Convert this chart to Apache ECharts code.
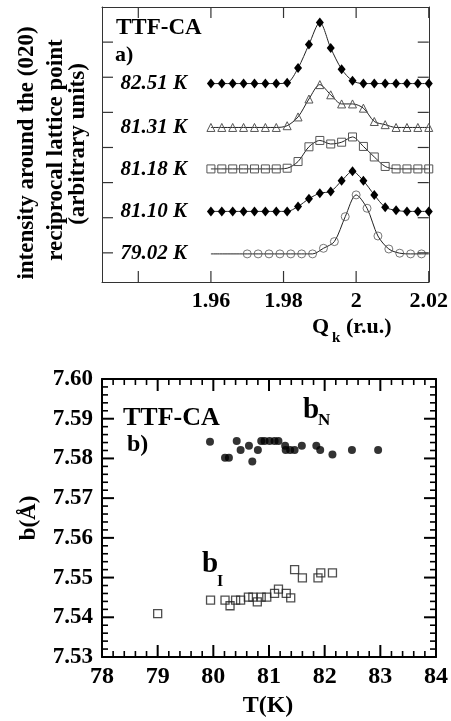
<!DOCTYPE html>
<html>
<head>
<meta charset="utf-8">
<script src="https://cdn.jsdelivr.net/npm/echarts@6/dist/echarts.min.js"></script>
<style>
html, body { margin: 0; padding: 0; background: #fff; }
#chart { width: 451px; height: 721px; }
</style>
</head>
<body>
<div id="chart"></div>
<script>
// panel a) : intensity scans vs Q_k (curves are offset vertically)
var qScan = [1.960, 1.963, 1.966, 1.969, 1.972, 1.975, 1.978, 1.981, 1.984, 1.987, 1.990,
             1.993, 1.996, 1.999, 2.002, 2.005, 2.008, 2.011, 2.014, 2.017, 2.020];
var int8251 = [5.82, 5.82, 5.82, 5.82, 5.82, 5.82, 5.82, 5.84, 6.26, 6.93, 7.56,
               6.83, 6.23, 5.90, 5.82, 5.82, 5.82, 5.82, 5.82, 5.82, 5.82];
var int8131 = [4.57, 4.57, 4.57, 4.57, 4.57, 4.57, 4.57, 4.62, 4.87, 5.38, 5.79,
               5.50, 5.24, 5.24, 5.12, 4.74, 4.65, 4.57, 4.57, 4.57, 4.57];
var int8118 = [3.39, 3.39, 3.39, 3.39, 3.39, 3.39, 3.39, 3.41, 3.60, 4.02, 4.20,
               4.10, 4.15, 4.30, 4.03, 3.73, 3.46, 3.39, 3.39, 3.39, 3.39];
var int8110 = [2.18, 2.18, 2.18, 2.18, 2.18, 2.18, 2.18, 2.18, 2.32, 2.54, 2.70,
               2.75, 3.05, 3.32, 3.05, 2.65, 2.30, 2.21, 2.18, 2.18, 2.18];
var qCirc = [1.970, 1.973, 1.976, 1.979, 1.982, 1.985, 1.988, 1.991, 1.994, 1.997, 2.000,
             2.003, 2.006, 2.009, 2.012, 2.015, 2.018];
var int7902 = [0.97, 0.97, 0.97, 0.97, 0.97, 0.97, 0.97, 1.13, 1.32, 2.03, 2.65,
               2.27, 1.48, 1.11, 0.99, 0.97, 0.97];
var fitEnds = [[1.96, 0.97], [2.02, 0.97]];   // fit line for 79.02 K runs over the whole scan
var curveLabels = ['82.51 K', '81.31 K', '81.18 K', '81.10 K', '79.02 K'];
var qRange = [1.93, 2.02];
var intRange = [0.17, 8];
var qTicks = [1.94, 1.96, 1.98, 2, 2.02];
var qLabels = [1.96, 1.98, 2, 2.02];
var intTicks = [1, 2, 3, 4, 5, 6, 7];

// panel b) : lattice parameter b vs T
var tN = [79.94, 80.21, 80.28, 80.42, 80.49, 80.64, 80.70, 80.80, 80.86, 80.92, 81.01, 81.10,
          81.17, 81.29, 81.30, 81.38, 81.46, 81.59, 81.85, 81.92, 82.14, 82.49, 82.96];
var bN = [7.5842, 7.5802, 7.5802, 7.5844, 7.5821, 7.5832, 7.5792, 7.5821, 7.5844, 7.5844, 7.5844, 7.5844,
          7.5844, 7.5832, 7.5821, 7.5821, 7.5821, 7.5832, 7.5832, 7.5821, 7.5810, 7.5821, 7.5821];
var tI = [79.00, 79.95, 80.21, 80.30, 80.40, 80.49, 80.63, 80.71, 80.79, 80.86,
          80.96, 81.10, 81.17, 81.31, 81.39, 81.46, 81.60, 81.88, 81.93, 82.14];
var bI = [7.5409, 7.5443, 7.5443, 7.5429, 7.5443, 7.5443, 7.5451, 7.5451, 7.5439, 7.5451,
          7.5451, 7.5460, 7.5471, 7.5460, 7.5449, 7.5520, 7.5499, 7.5499, 7.5512, 7.5512];
var tRange = [78, 84];
var bRange = [7.53, 7.60];
var tTicks = [78, 79, 80, 81, 82, 83, 84];
var bTicks = [7.53, 7.54, 7.55, 7.56, 7.57, 7.58, 7.59, 7.60];

var FONT = '"Liberation Serif", "Times New Roman", serif';

function pairs(xs, ys) {
    var out = [];
    for (var i = 0; i < xs.length; i++) {
        out.push([xs[i], ys[i]]);
    }
    return out;
}

// 4 minor ticks between two major ticks
function minorOf(major) {
    var out = [];
    for (var i = 0; i < major.length - 1; i++) {
        var step = (major[i + 1] - major[i]) / 5;
        for (var j = 1; j < 5; j++) {
            out.push(+(major[i] + step * j).toFixed(4));
        }
    }
    return out;
}

var fit7902 = [fitEnds[0]].concat(pairs(qCirc, int7902), [fitEnds[1]]);

var chart = echarts.init(document.getElementById('chart'));

var thinLine = { show: true, lineStyle: { color: '#333', width: 1 } };
var thickLine = { show: true, lineStyle: { color: '#000', width: 2 } };

function ax(grid, pos, range, line, label) {
    return { type: 'value', gridIndex: grid, position: pos, min: range[0], max: range[1],
             axisLine: line, axisTick: { show: false }, splitLine: { show: false },
             axisLabel: label || { show: false } };
}

function hollow(color) {
    return { color: 'transparent', borderColor: color, borderWidth: 1 };
}

function scanSeries(name, ys, symbol, size, style) {
    return {
        name: name, type: 'line', xAxisIndex: 0, yAxisIndex: 0,
        data: pairs(qScan, ys), smooth: 0.3, showAllSymbol: true,
        symbol: symbol, symbolSize: size, itemStyle: style,
        lineStyle: { color: '#222', width: 1 }, z: 3
    };
}

function txt(x, y, text, size, opts) {
    opts = opts || {};
    return {
        type: 'text', x: x, y: y, rotation: opts.rot || 0,
        style: {
            text: text, fill: '#000',
            font: (opts.italic ? 'italic ' : '') + 'bold ' + size + 'px ' + FONT,
            textAlign: opts.align || 'left', align: opts.align || 'left',
            textVerticalAlign: 'middle', verticalAlign: 'middle'
        }
    };
}

var labelY = [84, 127.5, 169.5, 211.7, 254];
var graphics = [
    txt(27, 153, 'intensity around the (020)', 23, { rot: Math.PI / 2, align: 'center' }),
    txt(56, 150, 'reciprocal lattice point', 23, { rot: Math.PI / 2, align: 'center' }),
    txt(78, 144, '(arbitrary units)', 23, { rot: Math.PI / 2, align: 'center' }),
    txt(116, 28, 'TTF-CA', 23),
    txt(115, 55, 'a)', 22),
    txt(312, 327, 'Q', 22),
    txt(332, 338, 'k', 15),
    txt(346, 327, '(r.u.)', 22),
    txt(123, 418, 'TTF-CA', 26),
    txt(127, 445, 'b)', 24),
    txt(303, 411, 'b', 29),
    txt(318, 421, 'N', 17),
    txt(202, 565, 'b', 29),
    txt(217, 582, 'I', 16),
    txt(29, 518, 'b(Å)', 23, { rot: Math.PI / 2, align: 'center' }),
    txt(268, 706, 'T(K)', 24, { align: 'center' })
];
for (var c = 0; c < curveLabels.length; c++) {
    graphics.push(txt(187, labelY[c], curveLabels[c], 21, { italic: true, align: 'right' }));
}

var boldLbl = { fontFamily: FONT, fontWeight: 'bold', color: '#000' };

var option = {
    animation: false,
    backgroundColor: '#fff',
    grid: [
        { left: 102, top: 7, width: 328, height: 275, show: false },
        { left: 102, top: 379, width: 336, height: 278, show: false }
    ],
    xAxis: [
        ax(0, 'bottom', qRange, thinLine,
            Object.assign({ customValues: qLabels, margin: 8, fontSize: 22,
                formatter: function (v) { return String(+v.toFixed(2)); } }, boldLbl)),
        ax(0, 'top', qRange, thinLine),
        ax(1, 'bottom', tRange, thickLine,
            Object.assign({ customValues: tTicks, margin: 8, fontSize: 24,
                formatter: function (v) { return String(Math.round(v)); } }, boldLbl)),
        ax(1, 'top', tRange, thickLine)
    ],
    yAxis: [
        ax(0, 'left', intRange, thinLine),
        ax(0, 'right', intRange, thinLine),
        ax(1, 'left', bRange, thickLine,
            Object.assign({ customValues: bTicks, margin: 9, fontSize: 23,
                formatter: function (v) { return v.toFixed(2); } }, boldLbl)),
        ax(1, 'right', bRange, thickLine)
    ],
    series: [
        scanSeries('82.51 K', int8251, 'diamond', [8, 10], { color: '#000' }),
        scanSeries('81.31 K', int8131, 'triangle', 8, hollow('#555')),
        scanSeries('81.18 K', int8118, 'rect', 8, hollow('#555')),
        scanSeries('81.10 K', int8110, 'diamond', [8, 10], { color: '#000' }),
        {
            name: '79.02 K fit', type: 'line', xAxisIndex: 0, yAxisIndex: 0,
            data: fit7902, smooth: 0.3, symbol: 'none',
            lineStyle: { color: '#222', width: 1 }, z: 2
        },
        {
            name: '79.02 K', type: 'scatter', xAxisIndex: 0, yAxisIndex: 0,
            data: pairs(qCirc, int7902), symbol: 'circle', symbolSize: 8,
            itemStyle: hollow('#555'), z: 3
        },
        {
            name: 'bN', type: 'scatter', xAxisIndex: 2, yAxisIndex: 2,
            data: pairs(tN, bN), symbol: 'circle', symbolSize: 8,
            itemStyle: { color: '#000' }
        },
        {
            name: 'bI', type: 'scatter', xAxisIndex: 2, yAxisIndex: 2,
            data: pairs(tI, bI), symbol: 'rect', symbolSize: 8,
            itemStyle: { color: 'transparent', borderColor: '#222', borderWidth: 1.3 }
        }
    ],
    graphic: graphics
};

chart.setOption(option);

// inward ticks on both sides of each box, placed with the grids' own scales
// after layout (axis ticks and series-drawn ticks did not show up here)
function addTicks(list, gridIndex, values, dir, other, len, w, color) {
    values.forEach(function (v) {
        var a, b;
        if (dir === 'x') {
            a = chart.convertToPixel({ gridIndex: gridIndex }, [v, other[0]]);
            b = chart.convertToPixel({ gridIndex: gridIndex }, [v, other[1]]);
            list.push([a[0] - w / 2, a[1] - len, w, len], [b[0] - w / 2, b[1], w, len]);
        } else {
            a = chart.convertToPixel({ gridIndex: gridIndex }, [other[0], v]);
            b = chart.convertToPixel({ gridIndex: gridIndex }, [other[1], v]);
            list.push([a[0], a[1] - w / 2, len, w], [b[0] - len, b[1] - w / 2, len, w]);
        }
        list[list.length - 1].push(color);
        list[list.length - 2].push(color);
    });
}

var bars = [];
addTicks(bars, 0, qTicks, 'x', intRange, 11, 1.2, '#333');
addTicks(bars, 0, intTicks, 'y', qRange, 11, 1.2, '#333');
addTicks(bars, 1, tTicks, 'x', bRange, 12, 2, '#000');
addTicks(bars, 1, minorOf(tTicks), 'x', bRange, 6, 1.6, '#000');
addTicks(bars, 1, bTicks, 'y', tRange, 12, 2, '#000');
addTicks(bars, 1, minorOf(bTicks), 'y', tRange, 6, 1.6, '#000');

var tickGraphics = bars.map(function (r) {
    return {
        type: 'rect', z: 100,
        shape: { x: r[0], y: r[1], width: r[2], height: r[3] },
        style: { fill: r[4] }
    };
});

chart.setOption({ graphic: graphics.concat(tickGraphics) });
</script>
</body>
</html>
